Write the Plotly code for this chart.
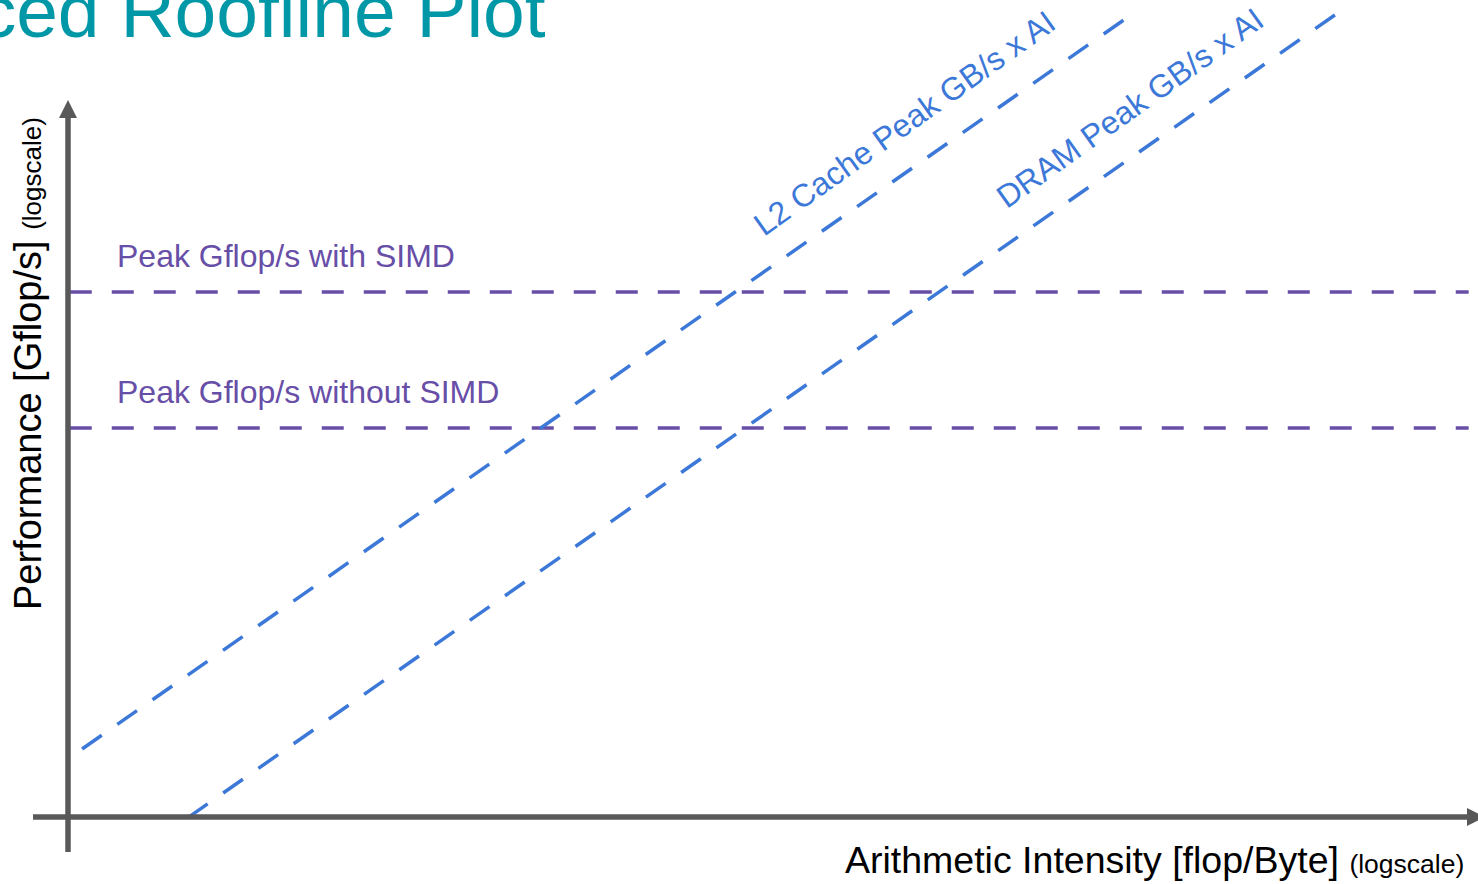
import numpy as np
import plotly.graph_objects as go

W, H = 1478, 884

# horizontal roofs (Gflop/s) and the AI span they are drawn over
roof_names = ["Peak Gflop/s with SIMD", "Peak Gflop/s without SIMD"]
roof_gflops = [256, 64]
roof_ai = [0.0185, 400]
roof_label_ai = [0.0255, 0.0255]

# bandwidth slopes (GB/s), drawn between start/end AI
bw_names = ["L2 Cache Peak GB/s x AI", "DRAM Peak GB/s x AI"]
bw_gbs = [120, 28]
bw_ai_start = [0.0202, 0.043]
bw_ai_end = [35.7, 154]
bw_label_ai = [7.16, 35.7]

purple = "#674EA7"
blue = "#3C78D8"
grey = "#595959"
FONT = "Liberation Sans, Arial, sans-serif"


def px(x):
    return x / W


def py(y):
    return 1 - y / H


fig = go.Figure()

for name, g in zip(roof_names, roof_gflops):
    fig.add_trace(go.Scatter(x=roof_ai, y=[g, g], mode="lines", name=name,
                             line=dict(color=purple, width=3.5, dash="22px,20px")))

for name, bw, a0, a1 in zip(bw_names, bw_gbs, bw_ai_start, bw_ai_end):
    ai = np.array([a0, a1])
    fig.add_trace(go.Scatter(x=ai, y=bw * ai, mode="lines", name=name,
                             line=dict(color=blue, width=3.5, dash="24px,19px")))

# labels
for name, g, a in zip(roof_names, roof_gflops, roof_label_ai):
    fig.add_annotation(x=np.log10(a), y=np.log10(g), text=name, showarrow=False,
                       xanchor="left", yanchor="middle", yshift=36,
                       font=dict(family=FONT, size=32, color=purple))

for name, bw, a in zip(bw_names, bw_gbs, bw_label_ai):
    fig.add_annotation(x=np.log10(a), y=np.log10(bw * a), text=name, showarrow=False,
                       xanchor="center", yanchor="middle", yshift=50, textangle=-35.5,
                       font=dict(family=FONT, size=32, color=blue))

# axis arrows (decoration)
fig.add_shape(type="line", xref="paper", yref="paper", x0=px(68), x1=px(68),
              y0=py(852), y1=py(114), line=dict(color=grey, width=5.5))
fig.add_shape(type="path", xref="paper", yref="paper",
              path=f"M {px(59)} {py(118)} L {px(68)} {py(100)} L {px(77)} {py(118)} Z",
              fillcolor=grey, line=dict(width=0))
fig.add_shape(type="line", xref="paper", yref="paper", x0=px(33), x1=px(1470),
              y0=py(817), y1=py(817), line=dict(color=grey, width=5.5))
fig.add_shape(type="path", xref="paper", yref="paper",
              path=f"M {px(1467)} {py(808)} L {px(1485)} {py(817)} L {px(1467)} {py(826)} Z",
              fillcolor=grey, line=dict(width=0))

# axis titles
fig.add_annotation(xref="paper", yref="paper", x=px(1466), y=py(860),
                   text="Arithmetic Intensity [flop/Byte] <span style='font-size:26.5px'>(logscale)</span>",
                   showarrow=False, xanchor="right", yanchor="middle",
                   font=dict(family=FONT, size=37.5, color="black"))
fig.add_annotation(xref="paper", yref="paper", x=px(28), y=py(364),
                   text="Performance [Gflop/s] <span style='font-size:26px'>(logscale)</span>",
                   showarrow=False, xanchor="center", yanchor="middle", textangle=-90,
                   font=dict(family=FONT, size=38, color="black"))

# slide title, cut off by the page edge
fig.add_annotation(xref="paper", yref="paper", x=px(548), y=py(11),
                   text="Advanced Roofline Plot", showarrow=False,
                   xanchor="right", yanchor="middle",
                   font=dict(family=FONT, size=75, color="#0097A7"))

fig.update_xaxes(type="log", range=[-1.949, 2.631], visible=False)
fig.update_yaxes(type="log", range=[-0.213, 3.701], visible=False)
fig.update_layout(width=W, height=H, margin=dict(l=0, r=0, t=0, b=0),
                  paper_bgcolor="white", plot_bgcolor="white",
                  showlegend=False, hovermode=False)

fig.write_html("out.html", config={"displayModeBar": False},
               post_script="document.body.style.margin='0';")
